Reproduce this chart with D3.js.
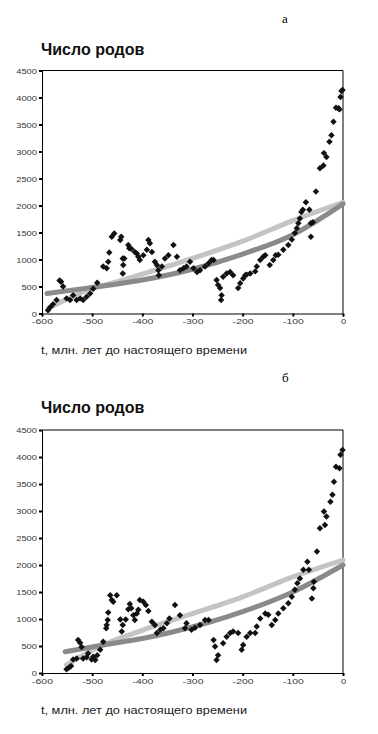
<!DOCTYPE html>
<html>
<head>
<meta charset="utf-8">
<script src="https://cdn.jsdelivr.net/npm/d3@7"></script>
<style>
  body { margin: 0; background: #fff; }
  svg { display: block; }
</style>
</head>
<body>
<div id="chart"></div>
<script>

// tick values shared by both panels
const yTicks = [0, 500, 1000, 1500, 2000, 2500, 3000, 3500, 4000, 4500];
const xTicks = [-600, -500, -400, -300, -200, -100, 0];

// panel "а": scatter of genera count [t, N]
const pointsA = [
    [-588, 60], [-583, 120], [-578, 170], [-571, 250], [-565, 610], [-562, 590], [-558, 500],
    [-551, 280], [-544, 250], [-538, 340], [-531, 250], [-524, 280], [-518, 250], [-511, 310],
    [-504, 370], [-498, 460], [-490, 570], [-478, 870], [-471, 840], [-468, 960], [-466, 1130],
    [-461, 1420], [-456, 1480], [-444, 1360], [-442, 1420], [-439, 1020], [-436, 1020], [-438, 900],
    [-439, 740], [-428, 1270], [-426, 1210], [-422, 1200], [-415, 1140], [-411, 1110], [-408, 1050],
    [-405, 990], [-398, 1080], [-391, 1180], [-388, 1360], [-385, 1300], [-381, 1140], [-375, 960],
    [-371, 900], [-368, 800], [-367, 710], [-361, 870], [-355, 1020], [-348, 1080], [-338, 1270],
    [-331, 1050], [-325, 800], [-318, 840], [-312, 870], [-305, 960], [-298, 840], [-291, 770],
    [-285, 800], [-275, 870], [-268, 930], [-262, 990], [-258, 990], [-252, 620], [-249, 530],
    [-245, 470], [-242, 340], [-243, 250], [-239, 680], [-232, 740], [-225, 770], [-219, 710],
    [-209, 470], [-205, 560], [-199, 650], [-195, 710], [-192, 720], [-185, 740], [-175, 780],
    [-172, 870], [-165, 990], [-159, 1050], [-155, 1080], [-146, 900], [-139, 990], [-134, 1080],
    [-129, 1090], [-119, 1180], [-109, 1270], [-102, 1370], [-96, 1490], [-92, 1580], [-89, 1670],
    [-86, 1760], [-83, 1880], [-80, 1920], [-74, 2060], [-67, 1920], [-64, 1670], [-64, 1420],
    [-60, 1690], [-54, 2260], [-46, 2690], [-39, 2740], [-38, 2970], [-33, 2900], [-27, 3180],
    [-23, 3300], [-19, 3550], [-14, 3810], [-9, 3800], [-7, 3780], [-5, 4010], [-3, 4120], [-1, 4140]
];

// panel "а": the two fitted curves
const lightA = [[-587, 100], [-550, 270], [-510, 430], [-450, 590], [-400, 730], [-300, 1020], [-200, 1340], [-100, 1720], [0, 2060]];
const darkA = [[-590, 370], [-510, 470], [-400, 620], [-300, 820], [-200, 1100], [-100, 1460], [0, 2030]];

// panel "б": scatter
const pointsB = [
    [-551, 70], [-546, 100], [-542, 130], [-538, 250], [-531, 270], [-528, 610], [-524, 560],
    [-521, 480], [-518, 270], [-511, 290], [-508, 360], [-501, 250], [-498, 300], [-494, 240],
    [-490, 330], [-484, 430], [-478, 580], [-472, 830], [-471, 890], [-469, 980], [-468, 1120],
    [-464, 1440], [-461, 1350], [-458, 1320], [-451, 1440], [-444, 990], [-441, 770], [-439, 890],
    [-433, 990], [-428, 1180], [-425, 1280], [-422, 1200], [-418, 1070], [-415, 980], [-411, 1100],
    [-408, 1170], [-405, 1350], [-398, 1320], [-393, 1260], [-388, 1150], [-381, 950], [-375, 890],
    [-371, 740], [-364, 800], [-358, 830], [-351, 920], [-346, 1010], [-335, 1260], [-325, 1070],
    [-315, 830], [-312, 920], [-302, 800], [-295, 840], [-285, 890], [-275, 980], [-268, 980],
    [-258, 610], [-255, 490], [-252, 240], [-249, 330], [-239, 550], [-232, 670], [-225, 740],
    [-219, 770], [-209, 740], [-202, 430], [-199, 520], [-192, 670], [-185, 740], [-175, 740],
    [-172, 860], [-165, 1010], [-155, 1100], [-149, 1080], [-142, 890], [-135, 980], [-129, 1100],
    [-119, 1200], [-109, 1290], [-102, 1410], [-96, 1540], [-91, 1660], [-86, 1750], [-79, 1910],
    [-71, 2060], [-68, 1910], [-62, 1380], [-59, 1570], [-58, 1690], [-52, 2250], [-46, 2680],
    [-36, 2740], [-33, 2900], [-38, 2990], [-25, 3170], [-21, 3300], [-18, 3540], [-14, 3820],
    [-7, 3790], [-5, 4040], [-1, 4130]
];

// panel "б": fitted curves
const lightB = [[-551, 150], [-515, 350], [-478, 520], [-400, 790], [-340, 980], [-200, 1410], [-100, 1780], [0, 2090]];
const darkB = [[-554, 395], [-478, 520], [-400, 640], [-340, 760], [-200, 1135], [-100, 1500], [0, 2000]];

const width = 378;
const height = 734;

const svg = d3.select("#chart")
    .append("svg")
    .attr("width", width)
    .attr("height", height);

// draw one panel, top = y of the 4500 line, bottom = y of the x axis
function drawPanel(letter, letterY, titleY, top, bottom, labelY, points, light, dark) {

    let x_scale = d3.scaleLinear()
        .domain([-600, 0])
        .range([42, 343]);

    let y_scale = d3.scaleLinear()
        .domain([0, 4500])
        .range([bottom, top]);

    const g = svg.append("g");

    // letter and title
    g.append("text")
        .attr("x", 282)
        .attr("y", letterY)
        .style("font-family", "'Liberation Serif', serif")
        .style("font-size", "13px")
        .text(letter);

    g.append("text")
        .attr("x", 41)
        .attr("y", titleY)
        .style("font-family", "'Liberation Sans', Arial, sans-serif")
        .style("font-size", "16px")
        .style("font-weight", "bold")
        .style("fill", "#111")
        .text("Число родов");

    // frame top + right
    g.append("line")
        .attr("x1", x_scale(-600)).attr("x2", x_scale(0))
        .attr("y1", y_scale(4500)).attr("y2", y_scale(4500))
        .attr("stroke", "#000");
    g.append("line")
        .attr("x1", x_scale(0)).attr("x2", x_scale(0))
        .attr("y1", y_scale(4500)).attr("y2", y_scale(0))
        .attr("stroke", "#000");

    // fitted curves
    let line = d3.line()
        .x(d => x_scale(d[0]))
        .y(d => y_scale(d[1]))
        .curve(d3.curveMonotoneX);

    g.append("path")
        .datum(light)
        .attr("d", line)
        .attr("fill", "none")
        .attr("stroke", "#c4c4c4")
        .attr("stroke-width", 5)
        .attr("stroke-linecap", "round");

    g.append("path")
        .datum(dark)
        .attr("d", line)
        .attr("fill", "none")
        .attr("stroke", "#8a8a8a")
        .attr("stroke-width", 5)
        .attr("stroke-linecap", "round");

    // scatter, small diamonds (rotated squares)
    g.selectAll(".dot")
        .data(points)
        .enter()
        .append("path")
        .attr("class", "dot")
        .attr("d", d3.symbol().type(d3.symbolSquare).size(21))
        .attr("transform", d => `translate(${x_scale(d[0])}, ${y_scale(d[1])}) rotate(45)`)
        .attr("fill", "#111");

    // axes
    let y_axis = d3.axisLeft(y_scale)
        .tickValues(yTicks)
        .tickSize(3)
        .tickPadding(2)
        .tickFormat(d => String(d));

    let x_axis = d3.axisBottom(x_scale)
        .tickValues(xTicks)
        .tickSize(3)
        .tickPadding(2)
        .tickFormat(d => String(d));

    let ya = g.append("g")
        .attr("transform", `translate(${x_scale(-600)}, 0)`)
        .call(y_axis);

    let xa = g.append("g")
        .attr("transform", `translate(0, ${y_scale(0)})`)
        .call(x_axis);

    [ya, xa].forEach(a => {
        a.select(".domain").attr("stroke", "#000");
        a.selectAll(".tick line").attr("stroke", "#000").attr("stroke-width", 2);
        a.selectAll(".tick text")
            .style("font-family", "'Liberation Sans', Arial, sans-serif")
            .style("font-size", "8px")
            .style("fill", "#333")
            .style("opacity", 0.99)
            .attr("textLength", d => String(d).length * 5.2)
            .attr("lengthAdjust", "spacingAndGlyphs");
    });

    // x axis title
    g.append("text")
        .attr("x", 41)
        .attr("y", labelY)
        .style("font-family", "'Liberation Sans', Arial, sans-serif")
        .style("font-size", "11px")
        .style("fill", "#222")
        .attr("textLength", 206)
        .attr("lengthAdjust", "spacingAndGlyphs")
        .text("t, млн. лет до настоящего времени");
}

drawPanel("а", 23, 55, 70.5, 313.5, 354, pointsA, lightA, darkA);
drawPanel("б", 382, 413, 430, 673, 714, pointsB, lightB, darkB);

</script>
</body>
</html>
